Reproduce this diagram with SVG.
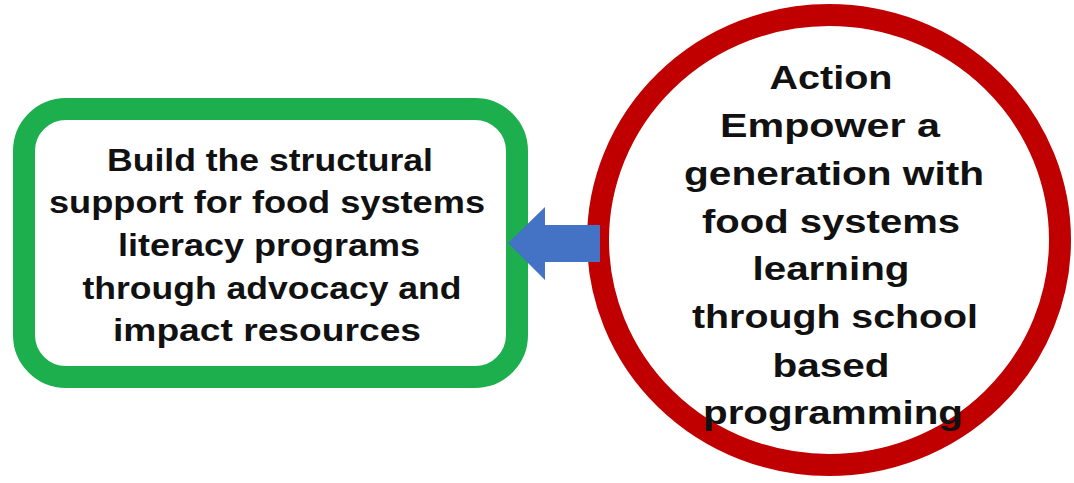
<svg xmlns="http://www.w3.org/2000/svg" width="1074" height="483" viewBox="0 0 1074 483">
<style>
.t{font-family:"Liberation Sans",Arial,sans-serif;font-weight:bold;fill:#111;text-anchor:middle}
.l{font-size:31px}
.r{font-size:34px}
</style>
<rect width="1074" height="483" fill="#fff"/>
<g id="node-left">
<rect x="24" y="109" width="493" height="268" rx="42" ry="42" fill="#fff" stroke="#1DAF4E" stroke-width="22"/>
<text class="t l" x="270" y="171" textLength="326" lengthAdjust="spacingAndGlyphs">Build the structural</text>
<text class="t l" x="267" y="213" textLength="436" lengthAdjust="spacingAndGlyphs">support for food systems</text>
<text class="t l" x="269" y="256" textLength="302" lengthAdjust="spacingAndGlyphs">literacy programs</text>
<text class="t l" x="272" y="299" textLength="379" lengthAdjust="spacingAndGlyphs">through advocacy and</text>
<text class="t l" x="267" y="341" textLength="308" lengthAdjust="spacingAndGlyphs">impact resources</text>
</g>
<g id="node-right">
<ellipse cx="829" cy="240" rx="231" ry="225" fill="#fff" stroke="#C00000" stroke-width="22"/>
<text class="t r" x="831" y="89" textLength="123" lengthAdjust="spacingAndGlyphs">Action</text>
<text class="t r" x="830" y="137" textLength="220" lengthAdjust="spacingAndGlyphs">Empower a</text>
<text class="t r" x="834" y="185" textLength="300" lengthAdjust="spacingAndGlyphs">generation with</text>
<text class="t r" x="831" y="233" textLength="258" lengthAdjust="spacingAndGlyphs">food systems</text>
<text class="t r" x="831" y="280" textLength="157" lengthAdjust="spacingAndGlyphs">learning</text>
<text class="t r" x="835" y="328" textLength="286" lengthAdjust="spacingAndGlyphs">through school</text>
<text class="t r" x="831" y="377" textLength="117" lengthAdjust="spacingAndGlyphs">based</text>
<text class="t r" x="833" y="424" textLength="260" lengthAdjust="spacingAndGlyphs">programming</text>
</g>
<g id="connectors">
<polygon points="508,243 545,207 545,225 600,225 600,262 545,262 545,280" fill="#4472C4"/>
</g>
</svg>
